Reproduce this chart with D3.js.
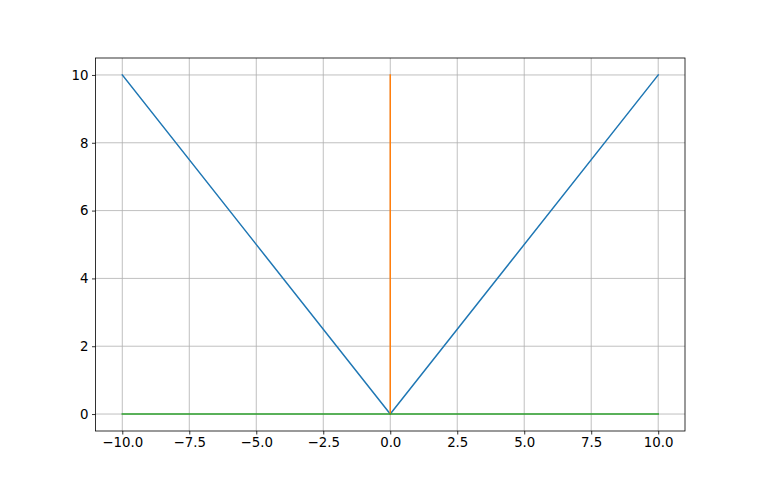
<!DOCTYPE html>
<html><head><meta charset="utf-8">
<script src="https://cdn.jsdelivr.net/npm/d3@7"></script>
<style>body{margin:0;background:#fff}svg{display:block}</style>
</head><body>
<script>
const absX = [-10, 0, 10];
const absY = [10, 0, 10];
const orangeX = [0, 0];
const orangeY = [0, 10];
const greenX = [-10, 10];
const greenY = [0, 0];
const xTicks = [-10, -7.5, -5, -2.5, 0, 2.5, 5, 7.5, 10];
const yTicks = [0, 2, 4, 6, 8, 10];
const colors = ["#1f77b4", "#ff7f0e", "#2ca02c"];

const W = 761, H = 484;
const L = 95.5, R = 685, T = 58, B = 431;
const svg = d3.select("body").append("svg").attr("width", W).attr("height", H);
const x = d3.scaleLinear().domain([-11, 11]).range([L, R]);
const y = d3.scaleLinear().domain([-0.5, 10.5]).range([B, T]);
const fmtX = d => d3.format(".1f")(d).replace("-", "\u2212");
const fmtY = d => String(d);

// grid
const g = svg.append("g");
g.selectAll(".gx").data(xTicks).enter().append("line")
  .attr("x1", d => x(d)).attr("x2", d => x(d)).attr("y1", T).attr("y2", B)
  .attr("stroke", "#b0b0b0").attr("stroke-width", 0.8);
g.selectAll(".gy").data(yTicks).enter().append("line")
  .attr("y1", d => y(d)).attr("y2", d => y(d)).attr("x1", L).attr("x2", R)
  .attr("stroke", "#b0b0b0").attr("stroke-width", 0.8);

const clip = svg.append("defs").append("clipPath").attr("id", "c")
  .append("rect").attr("x", L).attr("y", T).attr("width", R - L).attr("height", B - T);

const line = d3.line().x(d => x(d[0])).y(d => y(d[1]));
const series = [
  d3.zip(absX, absY),
  d3.zip(orangeX, orangeY),
  d3.zip(greenX, greenY)
];
svg.append("g").attr("clip-path", "url(#c)").selectAll("path").data(series).enter().append("path")
  .attr("d", line).attr("fill", "none")
  .attr("stroke", (d, i) => colors[i]).attr("stroke-width", 1.5)
  .attr("stroke-linecap", "square").attr("stroke-linejoin", "round");

// axes
const xAxis = d3.axisBottom(x).tickValues(xTicks).tickFormat(fmtX).tickSizeInner(3.5).tickSizeOuter(0).tickPadding(3.5);
const yAxis = d3.axisLeft(y).tickValues(yTicks).tickFormat(fmtY).tickSizeInner(3.5).tickSizeOuter(0).tickPadding(3.5);
const ax = svg.append("g").attr("transform", `translate(0,${B})`).call(xAxis);
const ay = svg.append("g").attr("transform", `translate(${L},0)`).call(yAxis);
[ax, ay].forEach(a => {
  a.select(".domain").remove();
  a.selectAll("line").attr("stroke", "#000").attr("stroke-width", 0.8);
  a.selectAll("text").attr("fill", "#000").style("font-family", "DejaVu Sans").style("font-size", "13.33px");
});
svg.append("rect").attr("x", L).attr("y", T).attr("width", R - L).attr("height", B - T)
  .attr("fill", "none").attr("stroke", "#000").attr("stroke-width", 0.8);
</script>
</body></html>
